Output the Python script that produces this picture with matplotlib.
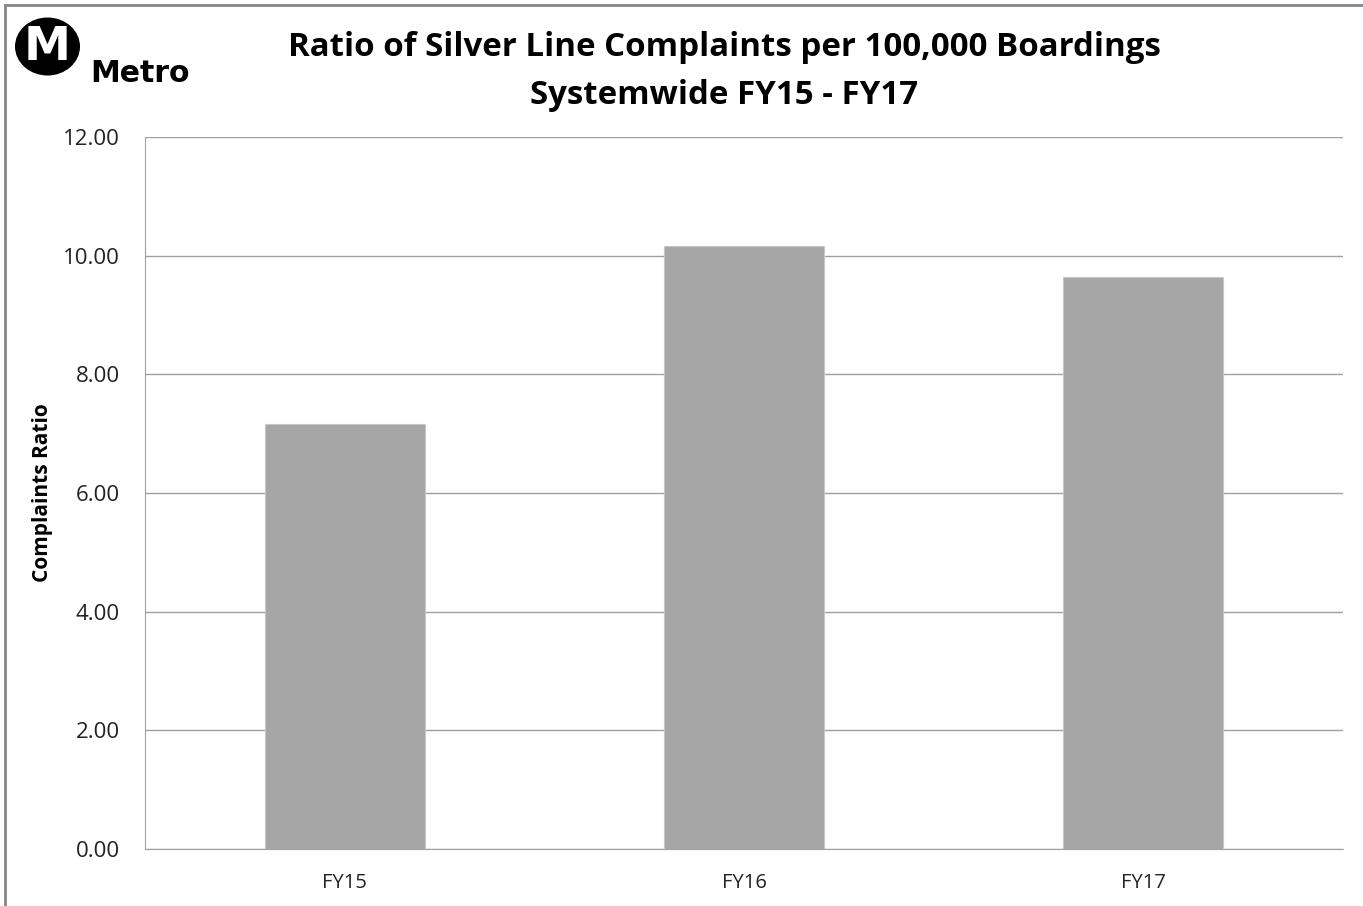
import matplotlib
matplotlib.use("Agg")
import matplotlib.pyplot as plt
from matplotlib.patches import Ellipse
from matplotlib.lines import Line2D

# Dados
categories = ["FY15", "FY16", "FY17"]
ratios = [7.16, 10.16, 9.64]
y_ticks = [0, 2, 4, 6, 8, 10, 12]

plt.rcParams['font.family'] = ['Open Sans', 'DejaVu Sans']

W, H = 1363, 906
fig = plt.figure(figsize=(W / 100, H / 100), dpi=100)
ax = fig.add_axes([145 / W, 1 - 849 / H, (1343 - 145) / W, (849 - 137) / H])

x = range(len(categories))
ax.bar(x, ratios, width=0.4, color="#a6a6a6", edgecolor="#c8c8c8", linewidth=0.8, zorder=3)
ax.set_xlim(-0.5, len(categories) - 0.5)
ax.set_ylim(0, 12)
ax.set_xticks(list(x))
ax.set_xticklabels(categories, fontsize=14.5)
ax.set_yticks(y_ticks)
ax.set_yticklabels([f"{v:.2f}" for v in y_ticks], fontsize=16)
ax.tick_params(axis="both", length=0, colors="#222222")
ax.tick_params(axis="x", pad=17)
ax.tick_params(axis="y", pad=18)
ax.yaxis.grid(True, color="#a0a0a0", linewidth=1, zorder=0)
for side in ["top", "right"]:
    ax.spines[side].set_visible(False)
for side in ["left", "bottom"]:
    ax.spines[side].set_color("#a0a0a0")
ax.set_ylabel("Complaints Ratio", fontsize=15, fontweight="bold")
ax.yaxis.set_label_coords((53 - 145) / 1198, 0.5)

# Título
fig.text(724 / W, 1 - 47 / H, "Ratio of Silver Line Complaints per 100,000 Boardings",
         ha="center", va="center", fontsize=23.8, fontweight="bold")
fig.text(724 / W, 1 - 95 / H, "Systemwide FY15 - FY17",
         ha="center", va="center", fontsize=23.8, fontweight="bold")

# Logo Metro
fig.patches.append(Ellipse((47.5 / W, 1 - 46.5 / H), 65 / W, 58 / H, transform=fig.transFigure,
                           facecolor="black", edgecolor="none"))
fig.text(47.5 / W, 1 - 47 / H, "M", ha="center", va="center", fontsize=34,
         fontweight="bold", color="white", family="DejaVu Sans")
fig.text(90 / W, 1 - 74 / H, "Metro", ha="left", va="center", fontsize=21.5,
         fontweight="bold", family="DejaVu Sans")

# Borda
fig.lines.append(Line2D([5 / W, 5 / W], [0, 1 - 5 / H], transform=fig.transFigure,
                        color="#888888", linewidth=2))
fig.lines.append(Line2D([5 / W, 1], [1 - 5 / H, 1 - 5 / H], transform=fig.transFigure,
                        color="#888888", linewidth=2))

fig.savefig("out.png", dpi=100)
